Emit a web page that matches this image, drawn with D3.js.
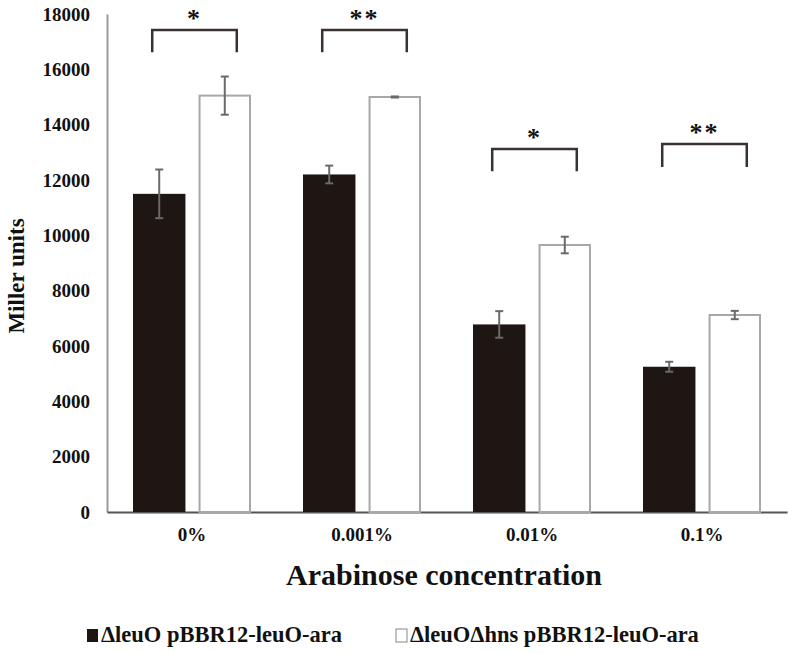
<!DOCTYPE html>
<html><head><meta charset="utf-8">
<script src="https://cdn.jsdelivr.net/npm/d3@7/dist/d3.min.js"></script>
<style>body{margin:0;background:#fff}svg{display:block}</style>
</head><body><svg id="c" width="788" height="653"></svg>
<script>
const categories = ["0%", "0.001%", "0.01%", "0.1%"];
const seriesNames = ["\u0394leuO pBBR12-leuO-ara", "\u0394leuO\u0394hns pBBR12-leuO-ara"];
const meansA = [11500, 12200, 6780, 5250];
const errA = [880, 320, 480, 180];
const meansB = [15050, 15000, 9650, 7120];
const errB = [690, 20, 300, 150];
const yTicks = [0, 2000, 4000, 6000, 8000, 10000, 12000, 14000, 16000, 18000];
const sigLabels = ["*", "**", "*", "**"];
const sigTop = [17420, 17420, 13120, 13300];
const sigBottom = [16620, 16620, 12320, 12470];

const FONT = "'Liberation Serif', 'Times New Roman', Times, serif";
const svg = d3.select("#c").style("font-family", FONT).style("font-weight", "bold");
const x0 = d3.scaleBand().domain(categories).range([107, 787]).paddingInner(0).paddingOuter(0);
const x1 = d3.scaleBand().domain([0, 1]).range([26, 144]).paddingInner(0.2);
const y = d3.scaleLinear().domain([0, 18000]).range([512, 14]);

function styleText(sel, size) {
  sel.attr("font-size", size).attr("fill", "#111")
    .style("font-family", FONT).style("font-weight", "bold");
}

// axes
const ya = svg.append("g").attr("transform", "translate(107,0)")
  .call(d3.axisLeft(y).tickValues(yTicks).tickSize(0).tickPadding(17).tickFormat(d3.format("d")));
ya.attr("font-family", null);
ya.select(".domain").attr("stroke", "#9a9a9a").attr("stroke-width", 2);
styleText(ya.selectAll("text"), 19);

const xa = svg.append("g").attr("transform", "translate(0,512)")
  .call(d3.axisBottom(x0).tickSize(0).tickPadding(16));
xa.attr("font-family", null);
xa.select(".domain").attr("stroke", "#555").attr("stroke-width", 2);
styleText(xa.selectAll("text"), 19);

const groups = svg.append("g").selectAll("g").data(categories).join("g")
  .attr("transform", d => `translate(${x0(d)},0)`);

const barData = (i) => [
  {s: 0, v: meansA[i], e: errA[i]},
  {s: 1, v: meansB[i], e: errB[i]}
];

groups.each(function(cat, i) {
  const g = d3.select(this);
  const data = barData(i);
  g.selectAll("rect").data(data).join("rect")
    .attr("x", d => x1(d.s) + (d.s === 1 ? 1 : 0))
    .attr("width", d => x1.bandwidth() - (d.s === 1 ? 2 : 0))
    .attr("y", d => y(d.v))
    .attr("height", d => y(0) - y(d.v))
    .attr("fill", d => d.s === 0 ? "#1e1613" : "#fff")
    .attr("stroke", d => d.s === 0 ? "none" : "#a8a8a8")
    .attr("stroke-width", 2);
  const eb = g.selectAll("g.eb").data(data).join("g").attr("class", "eb")
    .attr("stroke", "#6a6a6a").attr("stroke-width", 2);
  eb.append("line")
    .attr("x1", d => x1(d.s) + x1.bandwidth() / 2).attr("x2", d => x1(d.s) + x1.bandwidth() / 2)
    .attr("y1", d => y(d.v + d.e)).attr("y2", d => y(d.v - d.e));
  eb.append("line")
    .attr("x1", d => x1(d.s) + x1.bandwidth() / 2 - 4).attr("x2", d => x1(d.s) + x1.bandwidth() / 2 + 4)
    .attr("y1", d => y(d.v + d.e)).attr("y2", d => y(d.v + d.e));
  eb.append("line")
    .attr("x1", d => x1(d.s) + x1.bandwidth() / 2 - 4).attr("x2", d => x1(d.s) + x1.bandwidth() / 2 + 4)
    .attr("y1", d => y(d.v - d.e)).attr("y2", d => y(d.v - d.e));

  // significance bracket
  const xl = x1(0) + x1.bandwidth() / 2 - 7, xr = x1(1) + x1.bandwidth() / 2 + 12;
  g.append("path")
    .attr("d", `M${xl},${y(sigBottom[i])}V${y(sigTop[i])}H${xr}V${y(sigBottom[i])}`)
    .attr("fill", "none").attr("stroke", "#3a3230").attr("stroke-width", 2.5);
  styleText(g.append("text").attr("x", (xl + xr) / 2).attr("y", y(sigTop[i]) - 3)
    .attr("text-anchor", "middle").attr("letter-spacing", 2).text(sigLabels[i]), 26);
});

// axis titles
styleText(svg.append("text").attr("x", 444).attr("y", 585).attr("text-anchor", "middle")
  .text("Arabinose concentration"), 30);
styleText(svg.append("text").attr("transform", "translate(24,276) rotate(-90)").attr("text-anchor", "middle")
  .text("Miller units"), 23);

// legend
const leg = svg.append("g");
const legX = [87, 396];
seriesNames.forEach((n, i) => {
  leg.append("rect").attr("x", legX[i]).attr("y", 629).attr("width", 11).attr("height", 13)
    .attr("fill", i === 0 ? "#1e1613" : "#fff").attr("stroke", i === 0 ? "none" : "#888").attr("stroke-width", 1);
  styleText(leg.append("text").attr("x", legX[i] + 14).attr("y", 642).text(n), 22.5);
});
</script></body></html>
